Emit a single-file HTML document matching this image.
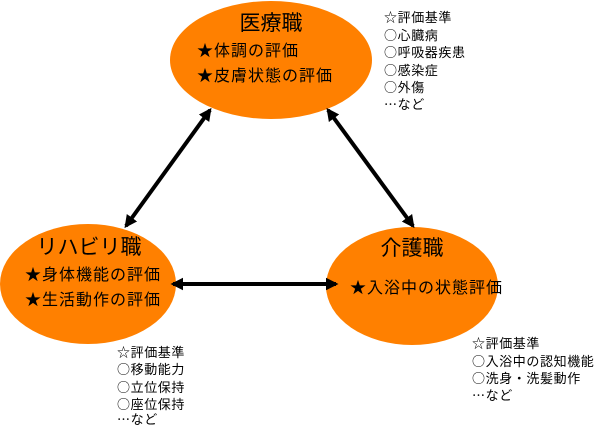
<!DOCTYPE html>
<html><head><meta charset="utf-8"><style>
body{margin:0;background:#fff;}
svg text{font-family:"Noto Sans CJK JP",sans-serif;fill:#000;}
</style></head><body>
<svg width="600" height="426" viewBox="0 0 600 426" xmlns="http://www.w3.org/2000/svg">
<defs>
<marker id="a" viewBox="0 0 10 10" refX="8" refY="5" markerWidth="3.2" markerHeight="3.2" orient="auto-start-reverse">
<path d="M0,0 L10,5 L0,10 z" fill="#000"/></marker>
</defs>
<ellipse cx="271" cy="60" rx="101" ry="59" fill="#ff8000"/>
<ellipse cx="88" cy="284" rx="88" ry="60" fill="#ff8000"/>
<ellipse cx="412" cy="286" rx="86" ry="59" fill="#ff8000"/>
<g stroke="#000" stroke-width="4" marker-start="url(#a)" marker-end="url(#a)">
<line x1="210" y1="110" x2="126" y2="226"/>
<line x1="328" y1="110" x2="413" y2="226"/>
<line x1="173" y1="284" x2="336" y2="284"/>
</g>
<g font-size="16" letter-spacing="1">
<text x="271" y="30" font-size="21" letter-spacing="0" text-anchor="middle">医療職</text>
<text x="197" y="56">★体調の評価</text>
<text x="197" y="81">★皮膚状態の評価</text>
<text x="89" y="254" font-size="21" letter-spacing="0" text-anchor="middle">リハビリ職</text>
<text x="25" y="280">★身体機能の評価</text>
<text x="25" y="305">★生活動作の評価</text>
<text x="412" y="255" font-size="21" letter-spacing="0" text-anchor="middle">介護職</text>
<text x="350" y="293">★入浴中の状態評価</text>
</g>
<g font-size="13" letter-spacing="0.6">
<text x="384" y="22">☆評価基準</text>
<text x="384" y="40">○心臓病</text>
<text x="384" y="57">○呼吸器疾患</text>
<text x="384" y="75">○感染症</text>
<text x="384" y="92">○外傷</text>
<text x="384" y="109">…など</text>
<text x="117" y="357">☆評価基準</text>
<text x="117" y="374">○移動能力</text>
<text x="117" y="392">○立位保持</text>
<text x="117" y="409">○座位保持</text>
<text x="117" y="424">…など</text>
<text x="472" y="348">☆評価基準</text>
<text x="472" y="366">○入浴中の認知機能</text>
<text x="472" y="383">○洗身・洗髪動作</text>
<text x="472" y="400">…など</text>
</g>
</svg>
</body></html>
